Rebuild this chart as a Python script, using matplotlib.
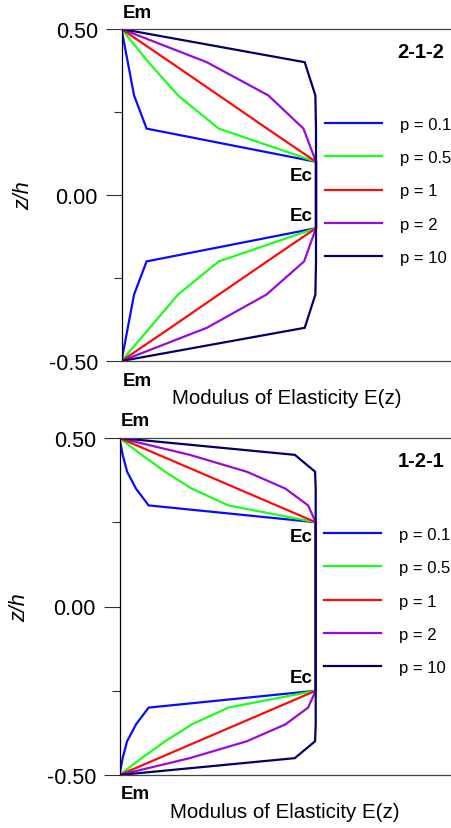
import matplotlib
matplotlib.use("Agg")
import matplotlib.pyplot as plt
from matplotlib.ticker import FixedLocator

plt.rcParams['font.family'] = ['Liberation Sans', 'DejaVu Sans']
plt.rcParams['axes.unicode_minus'] = False

# Material moduli (GPa) used as the x scale
E_m = 70
E_c = 380

p_labels = ["p = 0.1", "p = 0.5", "p = 1", "p = 2", "p = 10"]
colors = ['#0a0aff', '#1aff1a', '#ff0a0a', '#9a0ad6', '#000066']

# 2-1-2 sandwich
z_212 = [0.5, 0.4, 0.3, 0.2, 0.1, -0.1, -0.2, -0.3, -0.4, -0.5]
E_212 = [
    [70, 80, 90, 110, 380, 380, 110, 90, 80, 70],
    [70, 113, 160, 225, 380, 380, 225, 160, 115, 70],
    [70, 148, 225, 302, 380, 380, 302, 225, 148, 70],
    [70, 206, 304, 360, 380, 380, 361, 301, 206, 70],
    [70, 362, 379, 380, 380, 380, 380, 379, 362, 70],
]

# 1-2-1 sandwich
z_121 = [0.5, 0.45, 0.4, 0.35, 0.3, 0.25, -0.25, -0.3, -0.35, -0.4, -0.45, -0.5]
E_121 = [
    [70, 75, 82, 96, 116, 380, 380, 116, 96, 82, 75, 70],
    [70, 105, 142, 184, 242, 380, 380, 242, 184, 142, 105, 70],
    [70, 132, 194, 256, 318, 380, 380, 318, 256, 194, 132, 70],
    [70, 181, 271, 332, 368, 380, 380, 368, 332, 271, 181, 70],
    [70, 347, 379, 380, 380, 380, 380, 380, 380, 379, 347, 70],
]

W, H = 451, 829
fig = plt.figure(figsize=(W / 100, H / 100), dpi=100)


def draw_panel(rect, z, E_rows, xmax, core, tag, legend_y, legend_x):
    ax = fig.add_axes(rect)
    lines = []
    for row, col, lab in zip(E_rows, colors, p_labels):
        ln, = ax.plot(row, z, color=col, lw=1.6, label=lab, solid_joinstyle='miter')
        lines.append(ln)

    ax.set_xlim(E_m, xmax)
    ax.set_ylim(-0.5, 0.5)
    ax.set_xticks([])
    ax.yaxis.set_major_locator(FixedLocator([-0.5, 0.0, 0.5]))
    ax.yaxis.set_minor_locator(FixedLocator([-0.25, 0.25]))
    ax.yaxis.set_major_formatter(matplotlib.ticker.FormatStrFormatter('%.2f'))
    ax.tick_params(axis='y', which='major', length=11.5, width=0.8, pad=5.5,
                   labelsize=15.5, color='#333333')
    ax.tick_params(axis='y', which='minor', length=5.8, width=0.8, color='#333333')

    ax.spines['right'].set_visible(False)
    ax.spines['left'].set_color('black')
    ax.spines['left'].set_linewidth(0.9)
    for s in ('top', 'bottom'):
        ax.spines[s].set_color('#444444')
        ax.spines[s].set_linewidth(0.9)

    ax.set_ylabel("z/h", fontsize=15.5, style='italic', va='center')
    ax.set_xlabel("Modulus of Elasticity E(z)", fontsize=14.8, va='center')

    bold = dict(fontsize=13.5, fontweight='bold', textcoords='offset pixels')
    ax.annotate("Em", xy=(E_m, 0.5), xytext=(1, 17), ha='left', va='center', **bold)
    ax.annotate("Em", xy=(E_m, -0.5), xytext=(1, -19), ha='left', va='center', **bold)
    ax.annotate("Ec", xy=(E_c, core), xytext=(-3, -14), ha='right', va='center', **bold)
    ax.annotate("Ec", xy=(E_c, -core), xytext=(-3, 13), ha='right', va='center', **bold)

    ax.text(0.98, 0.932, tag, transform=ax.transAxes, ha='right', va='center',
            fontsize=14.5, fontweight='bold')

    ax.legend(handles=lines, loc='center left',
              bbox_to_anchor=(legend_x / W, 1 - legend_y / H),
              bbox_transform=fig.transFigure, frameon=False, fontsize=12,
              handlelength=3.4, handletextpad=1.1, labelspacing=1.1,
              borderpad=0, borderaxespad=0)
    return ax


# top panel: spine at 121.5 px, Ec at 316 px
ax1 = draw_panel([121.5 / W, 1 - 362 / H, 1 - 121.5 / W, 332 / H],
                 z_212, E_212, E_m + (E_c - E_m) * 329.5 / 194.5, 0.1, "2-1-2",
                 192, 325)
ax1.yaxis.set_label_coords(-98 / 329.5, 0.5)
ax1.xaxis.set_label_coords(0.5, -37 / 332)

# bottom panel: spine at 119.5 px, Ec at 315.7 px
ax2 = draw_panel([119.5 / W, 1 - 776 / H, 1 - 119.5 / W, 337 / H],
                 z_121, E_121, E_m + (E_c - E_m) * 331.5 / 196.2, 0.25, "1-2-1",
                 602, 324)
ax2.yaxis.set_label_coords(-100 / 331.5, 0.5)
ax2.xaxis.set_label_coords(0.5, -37 / 337)

fig.savefig("out.png", dpi=100)
